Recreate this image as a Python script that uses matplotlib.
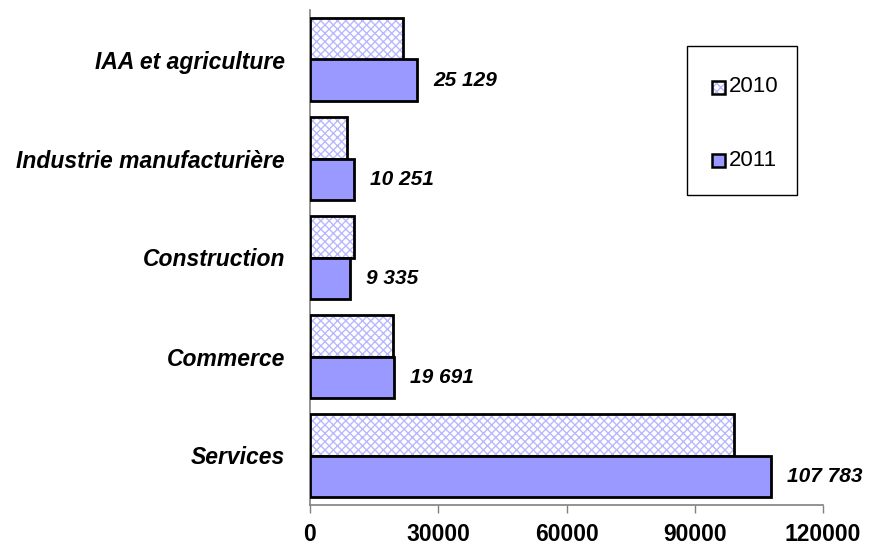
import matplotlib
matplotlib.use('Agg')
import matplotlib.pyplot as plt
from matplotlib.patches import Rectangle
import numpy as np

plt.rcParams['font.family'] = ['Liberation Sans', 'DejaVu Sans']
plt.rcParams['hatch.linewidth'] = 1.0

categories = ['Services', 'Commerce', 'Construction', 'Industrie manufacturière', 'IAA et agriculture']
val_2010 = [99100, 19300, 10300, 8700, 21700]
val_2011 = [107783, 19691, 9335, 10251, 25129]
labels_2011 = ['107 783', '19 691', '9 335', '10 251', '25 129']
xticks = [0, 30000, 60000, 90000, 120000]
years = ['2010', '2011']

W, H = 870, 550
fig = plt.figure(figsize=(W/100, H/100), dpi=100)
ax = fig.add_axes([310/W, 1-505/H, (823-310)/W, (505-10)/H])

y = np.arange(len(categories))
h = 0.42

# 2010: hatch layer then black outline
ax.barh(y + h/2, val_2010, height=h, color='white', edgecolor='#b8b8ff',
        hatch='xxxx', linewidth=0, zorder=2)
ax.barh(y + h/2, val_2010, height=h, color='none', edgecolor='black',
        linewidth=2, zorder=3)
ax.barh(y - h/2, val_2011, height=h, color='#9999ff', edgecolor='black',
        linewidth=2, zorder=3)

for yi, v, lab in zip(y, val_2011, labels_2011):
    ax.text(v + 3700, yi - h/2, lab, va='center', ha='left',
            fontsize=15, fontweight='bold', fontstyle='italic')

ax.set_xlim(0, 120000)
ax.set_ylim(-0.5, 4.5)
ax.set_xticks(xticks)
ax.set_xticklabels([str(t) for t in xticks], fontsize=16.5, fontweight='bold')
ax.set_yticks(y)
ax.set_yticklabels(categories, fontsize=16.5, fontweight='bold', fontstyle='italic')
ax.tick_params(axis='y', length=0, pad=18)
ax.tick_params(axis='x', length=6, width=1, color='#808080', pad=7)

for s in ['top', 'right']:
    ax.spines[s].set_visible(False)
for s in ['left', 'bottom']:
    ax.spines[s].set_color('#808080')
    ax.spines[s].set_linewidth(1.2)

# legend drawn by hand (pixel layout of the original)
fig.patches.append(Rectangle((687/W, 1-195/H), 110/W, 149/H, transform=fig.transFigure,
                             facecolor='white', edgecolor='black', linewidth=1))
for yy, yr in zip([87, 160], years):
    if yr == '2010':
        fig.patches.append(Rectangle((712/W, 1-(yy+7)/H), 13/W, 13/H, transform=fig.transFigure,
                                     facecolor='white', edgecolor='#b8b8ff', hatch='xxxx',
                                     linewidth=0, zorder=3))
        fig.patches.append(Rectangle((712/W, 1-(yy+7)/H), 13/W, 13/H, transform=fig.transFigure,
                                     facecolor='none', edgecolor='black', linewidth=1.8, zorder=4))
    else:
        fig.patches.append(Rectangle((712/W, 1-(yy+7)/H), 13/W, 13/H, transform=fig.transFigure,
                                     facecolor='#9999ff', edgecolor='black', linewidth=1.8, zorder=4))
    fig.text(729/W, 1-yy/H, yr, fontsize=16, va='center', ha='left')

fig.savefig('out.png', dpi=100)
